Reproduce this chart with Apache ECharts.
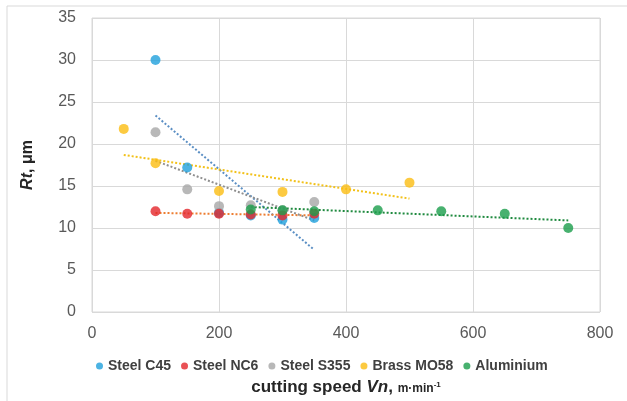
<!DOCTYPE html>
<html>
<head>
<meta charset="utf-8">
<script src="https://cdn.jsdelivr.net/npm/echarts@6/dist/echarts.min.js"></script>
<style>
  html, body { margin: 0; padding: 0; background: #fff; }
  #chart { width: 627px; height: 401px; }
</style>
</head>
<body>
<div id="chart"></div>
<script>
// measured points [cutting speed, Rt]
const steelC45 = [[100, 30], [150, 17.2], [200, 11.8], [250, 11.5], [300, 11.0], [350, 11.2]];
const steelNC6 = [[100, 12.0], [150, 11.7], [200, 11.7], [250, 11.6], [300, 11.5], [350, 11.7]];
const steelS355 = [[100, 21.4], [150, 14.6], [200, 12.6], [250, 12.7], [300, 12.1], [350, 13.1]];
const brassMO58 = [[50, 21.8], [100, 17.7], [200, 14.4], [300, 14.3], [400, 14.6], [500, 15.4]];
const aluminium = [[250, 12.2], [300, 12.1], [350, 12.0], [450, 12.1], [550, 12.0], [650, 11.7], [750, 10.0]];

// trend line ends
const trendC45 = [[100, 23.4], [350, 7.4]];
const trendNC6 = [[100, 11.8], [350, 11.5]];
const trendS355 = [[100, 18.0], [350, 10.9]];
const trendBrass = [[50, 18.7], [500, 13.5]];
const trendAlu = [[250, 12.5], [750, 10.9]];

const names = ["Steel C45", "Steel NC6", "Steel S355", "Brass MO58", "Aluminium"];
const dotColors = ["#1fa0dc", "#e3262b", "#a6a6a6", "#fbbd12", "#1a9e4b"];
const trendColors = ["#5b8fc4", "#ed7d31", "#8f8f8f", "#f2c11a", "#1f8a3f"];

let chart = echarts.init(document.getElementById("chart"));

function dots(i, data) {
  return {
    name: names[i],
    type: "scatter",
    data: data,
    symbol: "circle",
    symbolSize: 10,
    itemStyle: { color: dotColors[i] },
    z: 3,
  };
}
function trend(i, data) {
  return {
    name: names[i] + " trend",
    type: "line",
    data: data,
    showSymbol: false,
    symbol: "none",
    lineStyle: { color: trendColors[i], width: 2, type: [2, 2] },
    silent: true,
    z: 2,
  };
}

let options = {
  animation: false,
  textStyle: { fontFamily: "Arial, 'Liberation Sans', sans-serif" },
  graphic: [
    { type: "line", shape: { x1: 7, y1: 6, x2: 627, y2: 6 }, style: { stroke: "#d9d9d9", lineWidth: 1 } },
    { type: "line", shape: { x1: 7, y1: 6, x2: 7, y2: 401 }, style: { stroke: "#d9d9d9", lineWidth: 1 } },
  ],
  grid: {
    left: 92,
    right: 27,
    top: 18,
    bottom: 83,
    show: true,
    borderColor: "#d9d9d9",
    borderWidth: 1,
  },
  legend: {
    data: names,
    left: 91,
    top: 354,
    icon: "circle",
    itemWidth: 7,
    itemHeight: 7,
    itemGap: 10,
    textStyle: { color: "#404040", fontSize: 14, fontWeight: "bold" },
  },
  xAxis: {
    type: "value",
    min: 0,
    max: 800,
    interval: 200,
    axisLine: { show: false },
    axisTick: { show: false },
    axisLabel: { color: "#595959", fontSize: 16, margin: 14 },
    splitLine: { lineStyle: { color: "#d9d9d9" } },
    name: "{b|cutting speed }{bi|Vn}{b|, }{s|m·min}{sup|-1}",
    nameLocation: "middle",
    nameGap: 67,
    nameTextStyle: {
      rich: {
        b: { fontSize: 17, fontWeight: "bold", color: "#262626" },
        bi: { fontSize: 17, fontWeight: "bold", fontStyle: "italic", color: "#262626" },
        s: { fontSize: 12, fontWeight: "bold", color: "#262626", padding: [3, 0, 0, 0] },
        sup: { fontSize: 8, fontWeight: "bold", color: "#262626", padding: [0, 0, 6, 0] },
      },
    },
  },
  yAxis: {
    type: "value",
    min: 0,
    max: 35,
    interval: 5,
    axisLine: { show: false },
    axisTick: { show: false },
    axisLabel: { color: "#595959", fontSize: 16, margin: 16 },
    splitLine: { lineStyle: { color: "#d9d9d9" } },
    name: "{bi|Rt}{b|, μm}",
    nameLocation: "middle",
    nameGap: 56,
    nameTextStyle: {
      rich: {
        b: { fontSize: 16, fontWeight: "bold", color: "#262626" },
        bi: { fontSize: 16, fontWeight: "bold", fontStyle: "italic", color: "#262626" },
      },
    },
  },
  series: [
    trend(0, trendC45),
    trend(1, trendNC6),
    trend(2, trendS355),
    trend(3, trendBrass),
    trend(4, trendAlu),
    dots(0, steelC45),
    dots(2, steelS355),
    dots(3, brassMO58),
    dots(1, steelNC6),
    dots(4, aluminium),
  ],
};
chart.setOption(options);
window.addEventListener("resize", function () {
  chart.resize();
});
</script>
</body>
</html>
